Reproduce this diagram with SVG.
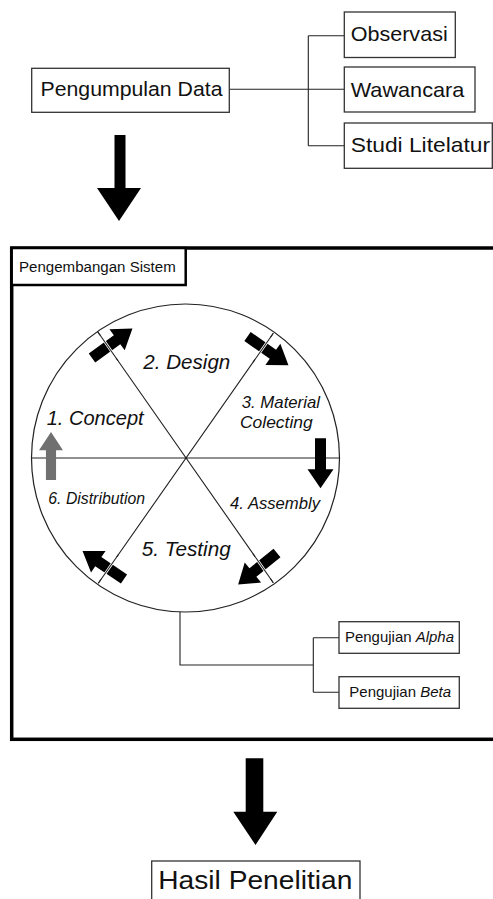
<svg xmlns="http://www.w3.org/2000/svg" width="493" height="899" viewBox="0 0 493 899">
<defs>
<style>
.box{fill:#fff;stroke:#333;stroke-width:1.3}
.t{font-family:"Liberation Sans",Arial,sans-serif;fill:#111}
.it{font-family:"Liberation Sans",Arial,sans-serif;font-style:italic;fill:#111}
.ln{fill:none;stroke:#222;stroke-width:1.1}
.halo{fill:none;stroke:#fff;stroke-width:2.6}
.blk{fill:#000}
.gry{fill:#707070}
</style>
<path id="arr" d="M0,-5.5 L31,-5.5 L31,-13 L50,0 L31,13 L31,5.5 L0,5.5 Z"/>
</defs>
<rect width="493" height="899" fill="#fff"/>

<g id="connectors">
<path class="ln" d="M229.3,89.3 H344.3 M308.3,35.7 V145.7 M308.3,35.7 H344.3 M308.3,145.7 H344.3"/>
<polygon class="blk" points="114.5,135 125.5,135 125.5,188 141,188 119,221 97,188 114.5,188"/>
<polygon class="blk" points="245.7,758.3 263.3,758.3 263.3,811.7 277.3,811.7 255.5,845 233.3,811.7 245.7,811.7"/>
<path class="ln" d="M180,612 V665 H313.3 M313.3,637.7 V692.3 M313.3,637.7 H339 M313.3,692.3 H339"/>
</g>

<g id="pengumpulan-data">
<rect class="box" x="31.7" y="68.3" width="197.6" height="44"/>
<text class="t" x="40.5" y="96" font-size="20.5" textLength="182" lengthAdjust="spacingAndGlyphs">Pengumpulan Data</text>
</g>
<g id="observasi">
<rect class="box" x="344.3" y="12" width="111" height="45.5"/>
<text class="t" x="350.7" y="41" font-size="21" textLength="97" lengthAdjust="spacingAndGlyphs">Observasi</text>
</g>
<g id="wawancara">
<rect class="box" x="344.3" y="67" width="130.7" height="45"/>
<text class="t" x="350.7" y="96.5" font-size="21" textLength="113.6" lengthAdjust="spacingAndGlyphs">Wawancara</text>
</g>
<g id="studi-litelatur">
<rect class="box" x="344.3" y="123" width="148" height="45.3"/>
<text class="t" x="350.7" y="152" font-size="21" textLength="139.3" lengthAdjust="spacingAndGlyphs">Studi Litelatur</text>
</g>

<g id="pengembangan-sistem">
<rect x="11.7" y="248" width="484" height="491.3" fill="none" stroke="#000" stroke-width="3.5"/>
<rect x="11.7" y="248" width="174" height="37" fill="#fff" stroke="#000" stroke-width="2.5"/>
<text class="t" x="19" y="271.7" font-size="15.5" textLength="156.7" lengthAdjust="spacingAndGlyphs">Pengembangan Sistem</text>
</g>

<g id="cycle">
<circle cx="185.5" cy="458" r="154" fill="none" stroke="#222" stroke-width="1.2"/>
<path class="ln" d="M31.5,458 H339.5 M97.7,331.7 L273.3,582.7 M273.3,333.3 L98.3,583.3"/>
<use href="#arr" class="blk" transform="translate(92,358) rotate(-36)"/>
<use href="#arr" class="blk" transform="translate(247.5,336.5) rotate(35)"/>
<use href="#arr" class="blk" transform="translate(320.5,438.3) rotate(90)"/>
<use href="#arr" class="blk" transform="translate(277,553) rotate(141)"/>
<use href="#arr" class="blk" transform="translate(124,579) rotate(214)"/>
<use href="#arr" class="gry" transform="translate(51,480) rotate(-90) scale(0.96,0.92)"/>
<path class="halo" d="M100.6,335.8 L116.1,357.9 M270.4,337.4 L254.9,359.5 M270.4,578.6 L254.9,556.5 M101.2,579.2 L116.7,557.1"/>
<path class="ln" d="M97.7,331.7 L118,360.7 M273.3,333.3 L253,362.3 M273.3,582.7 L253,553.7 M98.3,583.3 L118.6,554.3"/>
</g>

<g id="label-concept"><text class="it" x="46.7" y="425" font-size="20" textLength="97" lengthAdjust="spacingAndGlyphs">1. Concept</text></g>
<g id="label-design"><text class="it" x="143.3" y="369.3" font-size="20" textLength="87" lengthAdjust="spacingAndGlyphs">2. Design</text></g>
<g id="label-material">
<text class="it" x="241.7" y="408.3" font-size="16.5" textLength="78.3" lengthAdjust="spacingAndGlyphs">3. Material</text>
<text class="it" x="240" y="427.7" font-size="16.5" textLength="72.7" lengthAdjust="spacingAndGlyphs">Colecting</text>
</g>
<g id="label-assembly"><text class="it" x="230" y="509.3" font-size="16.5" textLength="90" lengthAdjust="spacingAndGlyphs">4. Assembly</text></g>
<g id="label-testing"><text class="it" x="141.7" y="556" font-size="20" textLength="89" lengthAdjust="spacingAndGlyphs">5. Testing</text></g>
<g id="label-distribution"><text class="it" x="48.3" y="504" font-size="16" textLength="96.7" lengthAdjust="spacingAndGlyphs">6. Distribution</text></g>

<g id="pengujian-alpha">
<rect class="box" x="339" y="621.7" width="120.3" height="31.6"/>
<text class="t" x="345" y="642.3" font-size="15" textLength="109" lengthAdjust="spacingAndGlyphs">Pengujian <tspan font-style="italic">Alpha</tspan></text>
</g>
<g id="pengujian-beta">
<rect class="box" x="339" y="676.7" width="120.3" height="31.6"/>
<text class="t" x="349.3" y="696.7" font-size="15" textLength="101.7" lengthAdjust="spacingAndGlyphs">Pengujian <tspan font-style="italic">Beta</tspan></text>
</g>

<g id="hasil-penelitian">
<rect class="box" x="151.7" y="861" width="208.3" height="45"/>
<text class="t" x="158.3" y="889.3" font-size="25" textLength="194" lengthAdjust="spacingAndGlyphs">Hasil Penelitian</text>
</g>
</svg>
